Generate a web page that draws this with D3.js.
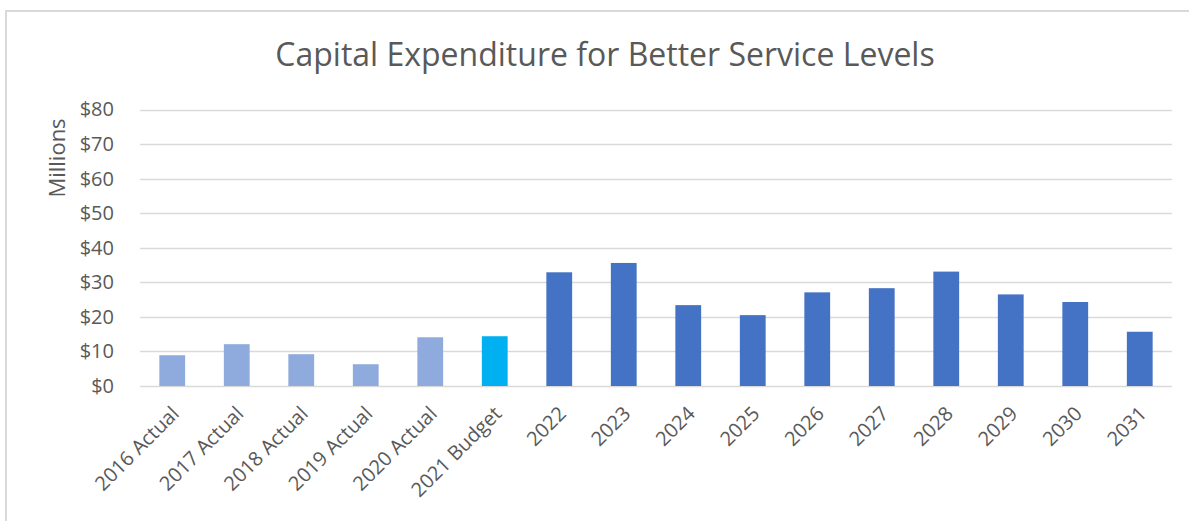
<!DOCTYPE html>
<html><head><meta charset="utf-8">
<script src="https://cdn.jsdelivr.net/npm/d3@7"></script>
<style>body{margin:0;background:#fff;}svg{display:block;font-family:"Open Sans",sans-serif;}</style>
</head><body>
<svg id="c" width="1189" height="521"></svg>
<script>
const categories = ["2016 Actual","2017 Actual","2018 Actual","2019 Actual","2020 Actual","2021 Budget","2022","2023","2024","2025","2026","2027","2028","2029","2030","2031"];
const values = [8.9,12.1,9.2,6.3,14.1,14.4,32.9,35.6,23.4,20.5,27.1,28.3,33.1,26.5,24.3,15.7];
const barKinds = ["actual","actual","actual","actual","actual","budget","plan","plan","plan","plan","plan","plan","plan","plan","plan","plan"];
const yTicks = [0,10,20,30,40,50,60,70,80];
const title = "Capital Expenditure for Better Service Levels";
const yTitle = "Millions";

const colors = {actual:"#8FAADC", budget:"#00B0F0", plan:"#4472C4"};
const svg = d3.select("#c");
const W = 1189, H = 521;
const m = {left:140, right:1172, top:109.5, bottom:386};

svg.append("rect").attr("x",6).attr("y",11).attr("width",W).attr("height",H)
  .attr("fill","none").attr("stroke","#d9d9d9").attr("stroke-width",2);

const x = d3.scaleBand().domain(categories).range([m.left,m.right]).paddingInner(0.6).paddingOuter(0.3);
const y = d3.scaleLinear().domain([0,80]).range([m.bottom,m.top]);

svg.append("text").attr("x",605).attr("y",66).attr("text-anchor","middle")
  .attr("font-size",32).attr("fill","#595959").text(title);

const grid = svg.append("g");
grid.selectAll("line").data(yTicks).join("line")
  .attr("x1",m.left).attr("x2",m.right)
  .attr("y1",d=>Math.round(y(d))+0.5).attr("y2",d=>Math.round(y(d))+0.5)
  .attr("stroke","#d9d9d9").attr("stroke-width",1.5);

const yAxis = d3.axisLeft(y).tickValues(yTicks).tickFormat(d=>"$"+d).tickSize(0).tickPadding(0);
const ya = svg.append("g").attr("transform",`translate(${114},0)`).call(yAxis);
ya.select(".domain").remove();
ya.selectAll("text").attr("font-size",20).attr("fill","#595959").attr("font-family","Open Sans");

svg.append("text").attr("transform","translate(65,158) rotate(-90)").attr("text-anchor","middle")
  .attr("font-size",22).attr("fill","#595959").text(yTitle);

svg.append("g").selectAll("rect").data(categories).join("rect")
  .attr("x",d=>x(d)).attr("width",x.bandwidth())
  .attr("y",(d,i)=>y(values[i])).attr("height",(d,i)=>y(0)-y(values[i]))
  .attr("fill",(d,i)=>colors[barKinds[i]]);

const xAxis = d3.axisBottom(x).tickSize(0).tickPadding(0);
const xa = svg.append("g").attr("transform",`translate(0,${m.bottom})`).call(xAxis);
xa.select(".domain").remove();
xa.selectAll("text").attr("font-size",20).attr("fill","#595959").attr("font-family","Open Sans")
  .attr("text-anchor","end").attr("dy",null)
  .attr("transform","translate(8,29) rotate(-45)");
</script>
</body></html>
